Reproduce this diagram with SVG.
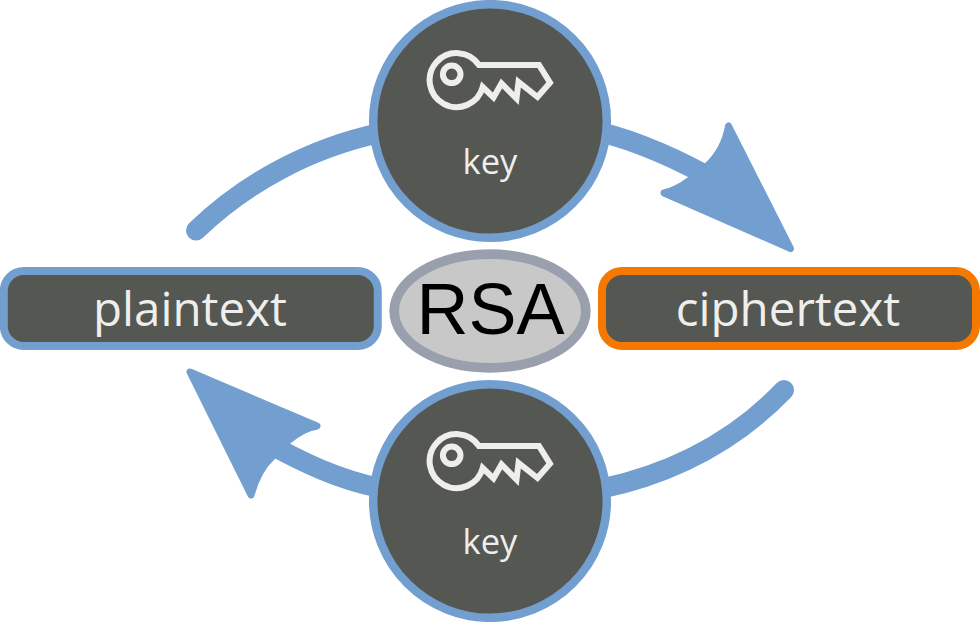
<svg xmlns="http://www.w3.org/2000/svg" width="980" height="622" viewBox="0 0 980 622">
<style>
.arc{fill:none;stroke:#729fcf;stroke-width:20;stroke-linecap:round}
.head{fill:#729fcf;stroke:#729fcf;stroke-width:7;stroke-linejoin:round}
.disc{fill:#555753;stroke:#729fcf;stroke-width:8.500}
.box{fill:#555753;stroke-width:8}
.key{fill:none;stroke:#eeeeec;stroke-width:6;stroke-linejoin:miter}
.lbl{font-family:"Open Sans","DejaVu Sans",sans-serif;fill:#eeeeec;text-anchor:middle}
</style>
<defs>
<g id="keyglyph">
<circle cx="451.700" cy="74.300" r="8.800" class="key"/>
<path class="key" d="M479 65H539L550 82.700L537.500 97L518.500 82L516.500 98.500L501.500 83.500L493.500 97.500L482.700 87A27 27 0 1 1 479 65Z"/>
</g>
</defs>
<g id="connectors">
<path class="arc" d="M196 230.500C245 183 310 148 380 133"/>
<path class="arc" d="M600 132C640 142 680 160 722 184"/>
<path class="head" d="M790.500 248.500L728.500 126C726 140 719 155 707 166L690 180C682 186 672 191 664 193Z"/>
<path class="arc" d="M784 390C740 436 680 472 600 489"/>
<path class="arc" d="M380 488C340 480 305 464 262 440"/>
<path class="head" d="M190 372L317 426C306 428 297 433 288 441L273 456C262 466 255 480 251 495Z"/>
</g>
<g id="node-key-top">
<circle class="disc" cx="490" cy="121" r="116.800"/>
<use href="#keyglyph"/>
<text class="lbl" x="490" y="173.500" font-size="34.500">key</text>
</g>
<g id="node-key-bottom">
<circle class="disc" cx="490" cy="501" r="116.800"/>
<use href="#keyglyph" y="381"/>
<text class="lbl" x="490" y="554" font-size="34.500">key</text>
</g>
<g id="node-plaintext">
<rect class="box" stroke="#729fcf" x="3.800" y="271" width="374" height="75" rx="20"/>
<text class="lbl" x="190" y="325.700" font-size="47.500">plaintext</text>
</g>
<g id="node-ciphertext">
<rect class="box" stroke="#f57900" x="602" y="271" width="374" height="75" rx="20"/>
<text class="lbl" x="788" y="325.700" font-size="47.500">ciphertext</text>
</g>
<g id="node-rsa">
<ellipse cx="490" cy="311" rx="95.800" ry="56.800" fill="#c8c8c8" stroke="#9a9fad" stroke-width="9.700"/>
<text x="490.500" y="334" font-family="'Liberation Sans',Arial,sans-serif" font-size="72" text-anchor="middle" fill="#000">RSA</text>
</g>
</svg>
